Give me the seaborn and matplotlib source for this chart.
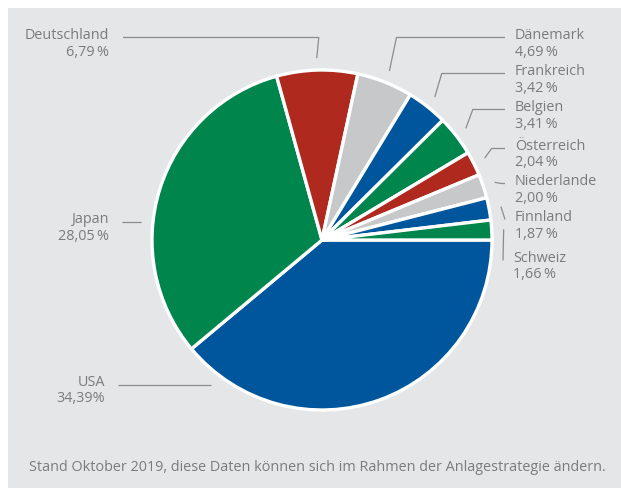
import numpy as np
import matplotlib
matplotlib.use("Agg")
import matplotlib.pyplot as plt
import seaborn as sns
from matplotlib.patches import Rectangle

# Anteile der Länder (Prozent), im Uhrzeigersinn ab 3 Uhr
laender = ["USA", "Japan", "Deutschland", "Dänemark", "Frankreich", "Belgien",
           "Österreich", "Niederlande", "Finnland", "Schweiz"]
anteile = [34.39, 28.05, 6.79, 4.69, 3.42, 3.41, 2.04, 2.00, 1.87, 1.66]
werte_text = ["34,39%", "28,05\u2009%", "6,79\u2009%", "4,69\u2009%", "3,42\u2009%",
              "3,41\u2009%", "2,04\u2009%", "2,00\u2009%", "1,87\u2009%", "1,66\u2009%"]
fussnote = "Stand Oktober 2019, diese Daten können sich im Rahmen der Anlagestrategie ändern."

blau, gruen, rot, grau = "#00569c", "#00854d", "#b0291f", "#c7c8ca"
farben = sns.color_palette([blau, gruen, rot, grau, blau, gruen, rot, grau, blau, gruen])

sns.set_theme(style="white")
plt.rcParams["font.family"] = ["Open Sans", "DejaVu Sans"]

W, H = 621, 488
cx, cy, r = 322, 240, 170          # Mittelpunkt/Radius in Pixeln (y von oben)
r_linie = 182                      # wo die Hinweislinien am Kreis enden
txt_farbe = "#7b7b7b"
lin_farbe = "#8c8c8c"
fs = 10.4

# Beschriftungs-Layout: x, Grundlinie der ersten Zeile, Ausrichtung, Linienart
layout = {
    "USA":         (105, 386, "right", "gerade"),
    "Japan":       (109, 223, "right", "gerade"),
    "Deutschland": (109, 39,  "right", "knick"),
    "Dänemark":    (515, 39,  "left",  "knick"),
    "Frankreich":  (515, 75,  "left",  "knick"),
    "Belgien":     (515, 111, "left",  "knick"),
    "Österreich":  (515, 150, "left",  "knick"),
    "Niederlande": (515, 185, "left",  "knick"),
    "Finnland":    (515, 221, "left",  "knick"),
    "Schweiz":     (513, 262, "left",  "knick"),
}

fig = plt.figure(figsize=(W / 100, H / 100), dpi=100)
fig.patch.set_facecolor("white")
ax = fig.add_axes([0, 0, 1, 1])
ax.set_facecolor("none")


def Y(y):
    return H - y


ax.add_patch(Rectangle((8, 0), W - 8, H - 8, facecolor="#e5e6e8",
                       edgecolor="none", zorder=0))

ax.pie(anteile, colors=farben, startangle=0, counterclock=False,
       center=(cx, Y(cy)), radius=r,
       wedgeprops=dict(edgecolor="white", linewidth=2.4, zorder=2))
ax.set_xlim(0, W)
ax.set_ylim(0, H)
ax.set_aspect("equal")
ax.axis("off")

gesamt = sum(anteile)
kum = np.cumsum([0] + anteile[:-1])
for name, wert, txt, k in zip(laender, anteile, werte_text, kum):
    tx, base, ha, art = layout[name]
    ly = base - 1.5
    if art == "knick":
        mitte = np.deg2rad(-(k + wert / 2) / gesamt * 360)
        ax_ = cx + r_linie * np.cos(mitte)
        ay_ = cy - r_linie * np.sin(mitte)
        if ha == "left":
            ex = min(ax_ + 7, tx - 10)
            pts = [(ax_, ay_), (ex, ly), (tx - 10, ly)]
        else:
            pts = [(ax_, ay_), (ax_ + 2, ly), (tx + 14, ly)]
    else:
        dy = ly - cy
        ex = cx - np.sqrt(r_linie ** 2 - dy ** 2)
        pts = [(ex, ly), (tx + 13, ly)]
    xs = [p[0] for p in pts]
    ys = [Y(p[1]) for p in pts]
    ax.plot(xs, ys, color=lin_farbe, lw=0.9, zorder=1, solid_capstyle="butt")
    ax.text(tx, Y(base), name, ha=ha, va="baseline", fontsize=fs, color=txt_farbe)
    ax.text(tx, Y(base + 16.5), txt, ha=ha, va="baseline", fontsize=fs, color=txt_farbe)

ax.text(317, Y(471), fussnote, ha="center", va="baseline", fontsize=fs, color=txt_farbe)

fig.savefig("out.png", dpi=100, facecolor=fig.get_facecolor())
